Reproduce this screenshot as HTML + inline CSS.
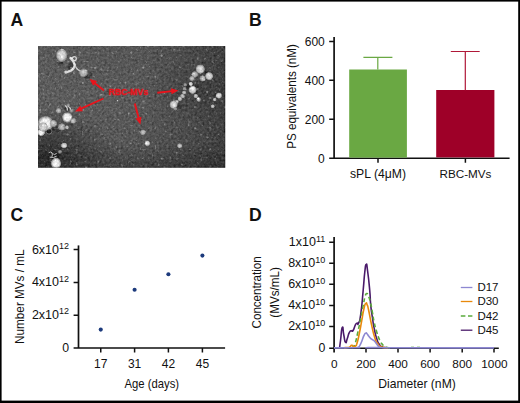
<!DOCTYPE html>
<html><head><meta charset="utf-8"><title>Figure</title>
<style>html,body{margin:0;padding:0;background:#fff}svg{display:block}text{font-family:"Liberation Sans",sans-serif;fill:#111}</style>
</head><body>
<svg width="520" height="403" viewBox="0 0 520 403">
<defs>
<linearGradient id="bg" x1="0" y1="0" x2="1" y2="0">
<stop offset="0" stop-color="#5e5e5e"/><stop offset="0.55" stop-color="#5a5a5a"/><stop offset="0.8" stop-color="#4e4e4e"/><stop offset="1" stop-color="#424242"/>
</linearGradient>
<linearGradient id="dkb" x1="0" y1="0" x2="0" y2="1">
<stop offset="0" stop-color="#000" stop-opacity="0.04"/><stop offset="0.45" stop-color="#000" stop-opacity="0"/><stop offset="0.8" stop-color="#000" stop-opacity="0.04"/><stop offset="1" stop-color="#000" stop-opacity="0.26"/>
</linearGradient>
<radialGradient id="dk1" cx="0.02" cy="0.9" r="0.4"><stop offset="0" stop-color="#000" stop-opacity="0.45"/><stop offset="0.5" stop-color="#000" stop-opacity="0.24"/><stop offset="1" stop-color="#000" stop-opacity="0"/></radialGradient>
<radialGradient id="dk2" cx="0.85" cy="0.38" r="0.3"><stop offset="0" stop-color="#000" stop-opacity="0.12"/><stop offset="1" stop-color="#000" stop-opacity="0"/></radialGradient>
<radialGradient id="v0"><stop offset="0" stop-color="#fcfcfc" stop-opacity="1"/><stop offset="0.6" stop-color="#e2e2e2" stop-opacity="1"/><stop offset="0.85" stop-color="#ababab" stop-opacity="0.8"/><stop offset="1" stop-color="#666" stop-opacity="0"/></radialGradient>
<radialGradient id="v1"><stop offset="0" stop-color="#e8e8e8" stop-opacity="1"/><stop offset="0.6" stop-color="#c8c8c8" stop-opacity="1"/><stop offset="0.85" stop-color="#9c9c9c" stop-opacity="0.8"/><stop offset="1" stop-color="#666" stop-opacity="0"/></radialGradient>
<radialGradient id="v2"><stop offset="0" stop-color="#cecece" stop-opacity="1"/><stop offset="0.6" stop-color="#b0b0b0" stop-opacity="0.95"/><stop offset="0.85" stop-color="#909090" stop-opacity="0.7"/><stop offset="1" stop-color="#666" stop-opacity="0"/></radialGradient>
<radialGradient id="v3"><stop offset="0" stop-color="#a8a8a8" stop-opacity="0.95"/><stop offset="0.65" stop-color="#909090" stop-opacity="0.85"/><stop offset="1" stop-color="#666" stop-opacity="0"/></radialGradient>
<filter id="noise" filterUnits="userSpaceOnUse" x="38" y="46" width="187.3" height="121.8" color-interpolation-filters="sRGB">
<feTurbulence type="fractalNoise" baseFrequency="0.42" numOctaves="2" seed="7" result="t"/>
<feColorMatrix in="t" type="matrix" values="0.6 0.6 0.6 0 -0.4  0.6 0.6 0.6 0 -0.4  0.6 0.6 0.6 0 -0.4  0 0 0 0 1" result="n0"/>
<feGaussianBlur in="n0" stdDeviation="0.35" result="n"/>
<feComposite in="SourceGraphic" in2="n" operator="arithmetic" k1="0" k2="1" k3="0.26" k4="-0.135" result="c1"/>
<feTurbulence type="fractalNoise" baseFrequency="0.33" numOctaves="1" seed="23" result="t2"/>
<feColorMatrix in="t2" type="matrix" values="0 6 0 0 -3.9  0 6 0 0 -3.9  0 6 0 0 -3.9  0 0 0 0 1" result="sp0"/>
<feGaussianBlur in="sp0" stdDeviation="0.3" result="sp"/>
<feComposite in="c1" in2="sp" operator="arithmetic" k1="0" k2="1" k3="0.24" k4="0"/>
</filter>
<filter id="bl" x="-0.2" y="-0.2" width="1.4" height="1.4"><feGaussianBlur stdDeviation="0.45"/></filter>
<clipPath id="mc"><rect x="38" y="46" width="187.3" height="121.8"/></clipPath>
</defs>
<rect x="0" y="0" width="520" height="403" fill="#fff"/>
<!-- border -->
<rect x="0" y="0" width="520" height="1.6" fill="#000"/><rect x="0" y="0" width="1.6" height="403" fill="#000"/>
<rect x="518.2" y="0" width="1.8" height="403" fill="#000"/><rect x="0" y="400.6" width="520" height="2.4" fill="#000"/>

<!-- Panel letters -->
<g font-weight="bold" font-size="17.6px">
<text x="10.6" y="25.8" fill="#000">A</text>
<text x="249" y="25.8" fill="#000">B</text>
<text x="10.4" y="221" fill="#000">C</text>
<text x="249" y="221" fill="#000">D</text>
</g>

<!-- Panel A micrograph -->
<g clip-path="url(#mc)">
<g filter="url(#noise)">
<rect x="38" y="46" width="187.3" height="121.8" fill="url(#bg)"/>
<rect x="38" y="46" width="187.3" height="121.8" fill="url(#dkb)"/>
<rect x="38" y="46" width="187.3" height="121.8" fill="url(#dk1)"/>
<rect x="38" y="46" width="187.3" height="121.8" fill="url(#dk2)"/>
<g filter="url(#bl)">
<!-- dark halos -->
<g fill="#1e1e1e">
<ellipse cx="60" cy="62.8" rx="3" ry="1.6" opacity="0.55"/>
<ellipse cx="70.5" cy="66.5" rx="3" ry="3.2" opacity="0.5"/>
<ellipse cx="87" cy="76.6" rx="3.4" ry="2.2" opacity="0.55"/>
<ellipse cx="90.3" cy="74" rx="2.2" ry="2" opacity="0.35"/>
<ellipse cx="49" cy="131.3" rx="3.6" ry="3.3" opacity="0.8"/>
<ellipse cx="53.4" cy="155.4" rx="6" ry="3.6" opacity="0.8"/>
<ellipse cx="66.4" cy="108.6" rx="2.6" ry="2.6" opacity="0.55"/>
<ellipse cx="57" cy="129.5" rx="4" ry="2.5" opacity="0.45"/>
<ellipse cx="188.6" cy="86.6" rx="2" ry="2.4" opacity="0.6"/>
<ellipse cx="195.8" cy="92.3" rx="2" ry="2" opacity="0.55"/>
<ellipse cx="196.5" cy="86" rx="2.4" ry="2.2" opacity="0.4"/>
<ellipse cx="179" cy="106.5" rx="3" ry="2" opacity="0.4"/>
<ellipse cx="206" cy="72.5" rx="2" ry="1.6" opacity="0.35"/>
</g>
<ellipse cx="61.7" cy="55.4" rx="6" ry="7.2" fill="url(#v1)"/>
<ellipse cx="83.5" cy="72.7" rx="4.8" ry="4.8" fill="url(#v2)"/>
<ellipse cx="67.3" cy="117.4" rx="5.6" ry="5.6" fill="url(#v0)"/>
<ellipse cx="58.6" cy="110.8" rx="3" ry="3" fill="url(#v2)"/>
<ellipse cx="73.3" cy="120.8" rx="3.1" ry="3.1" fill="url(#v2)"/>
<ellipse cx="71.6" cy="110.8" rx="2.3" ry="2.3" fill="url(#v3)"/>
<ellipse cx="68.1" cy="105.2" rx="2.3" ry="2.3" fill="url(#v3)"/>
<ellipse cx="45.6" cy="123.4" rx="8.4" ry="8" fill="url(#v0)"/>
<ellipse cx="41.2" cy="132.1" rx="4.2" ry="4.2" fill="url(#v0)"/>
<ellipse cx="53.4" cy="123.4" rx="4" ry="4" fill="url(#v2)"/>
<ellipse cx="61.7" cy="126.9" rx="4" ry="4" fill="url(#v2)"/>
<ellipse cx="66.9" cy="127.4" rx="2.2" ry="2.2" fill="url(#v2)"/>
<ellipse cx="43" cy="127" rx="5" ry="5" fill="url(#v1)"/>
<ellipse cx="64.1" cy="145.5" rx="3.4" ry="3" fill="url(#v1)"/>
<ellipse cx="60" cy="151.8" rx="2.3" ry="2.3" fill="url(#v3)"/>
<ellipse cx="56" cy="163.4" rx="5.4" ry="6.2" fill="url(#v0)"/>
<ellipse cx="200.2" cy="69.1" rx="5" ry="5" fill="url(#v1)"/>
<ellipse cx="194.7" cy="74.5" rx="3.6" ry="3.6" fill="url(#v2)"/>
<ellipse cx="209.1" cy="76.1" rx="4.3" ry="4.3" fill="url(#v1)"/>
<ellipse cx="202.5" cy="78.4" rx="3.4" ry="3.4" fill="url(#v2)"/>
<ellipse cx="191.9" cy="78.4" rx="2.9" ry="2.9" fill="url(#v2)"/>
<ellipse cx="190.8" cy="83.9" rx="2.3" ry="2.3" fill="url(#v1)"/>
<ellipse cx="192.6" cy="89.8" rx="4.4" ry="4.4" fill="url(#v1)"/>
<ellipse cx="185.3" cy="84.7" rx="2.1" ry="2.1" fill="url(#v3)"/>
<ellipse cx="184.5" cy="88.6" rx="2.1" ry="2.1" fill="url(#v3)"/>
<ellipse cx="184.1" cy="92.5" rx="2.3" ry="2.3" fill="url(#v2)"/>
<ellipse cx="182.5" cy="96" rx="2.6" ry="2.6" fill="url(#v2)"/>
<ellipse cx="179.9" cy="98.8" rx="2.6" ry="2.6" fill="url(#v2)"/>
<ellipse cx="176.7" cy="101.9" rx="2.3" ry="2.3" fill="url(#v2)"/>
<ellipse cx="173.6" cy="104.7" rx="4.4" ry="4.4" fill="url(#v1)"/>
<ellipse cx="175.2" cy="108.9" rx="2.2" ry="2.2" fill="url(#v3)"/>
<ellipse cx="195.8" cy="96" rx="2.5" ry="2.5" fill="url(#v2)"/>
<ellipse cx="198.6" cy="99.6" rx="2.5" ry="2.5" fill="url(#v2)"/>
<ellipse cx="218.9" cy="95.6" rx="3.3" ry="3.3" fill="url(#v1)"/>
<ellipse cx="214.7" cy="99.6" rx="2" ry="2" fill="url(#v2)"/>
<ellipse cx="212.7" cy="106.3" rx="2.2" ry="2.2" fill="url(#v2)"/>
<ellipse cx="143" cy="132.3" rx="3" ry="3" fill="url(#v2)"/>
<ellipse cx="147.3" cy="143.3" rx="3" ry="3" fill="url(#v1)"/>
<ellipse cx="179.6" cy="145.8" rx="2.8" ry="2.8" fill="url(#v2)"/>
<ellipse cx="117.5" cy="100.6" rx="1.1" ry="1.1" fill="url(#v2)"/>
<ellipse cx="49" cy="131.3" rx="2.3" ry="2.1" fill="#242424" opacity="0.9"/>
<ellipse cx="49" cy="131.3" rx="3" ry="2.8" fill="none" stroke="#aaa" stroke-width="0.7" opacity="0.8"/>
<circle cx="74.3" cy="58.6" r="2" fill="none" stroke="#d4d4d4" stroke-width="1.2"/>
<path d="M70.6 58 Q73.5 60.5 74.8 65 Q74.5 70 67.5 71.8" stroke="#e0e0e0" stroke-width="2.4" fill="none" stroke-linecap="round"/>
<circle cx="66" cy="72.1" r="1.7" fill="#d8d8d8"/>
<path d="M75 66 Q77 69.5 80 71" stroke="#c8c8c8" stroke-width="1.5" fill="none" stroke-linecap="round"/>
<path d="M65.3 105.8 q2.6 1.6 2 4.6 M68.6 106.8 q1.6 0.6 2 2.4" stroke="#d0d0d0" stroke-width="1.1" fill="none" stroke-linecap="round"/>
<path d="M49 152.5 q2 -1.6 3.4 0.8 q1.6 2.6 4 0.4 M50 157.3 q3 1.2 6.4 -1 M52 153 q1 2 0 4" stroke="#c4c4c4" stroke-width="0.9" fill="none" stroke-linecap="round"/>
<circle cx="193.1" cy="88.1" r="1.6" fill="#fff" opacity="0.9"/>
</g>
<path d="M224.9 46 V167.8 M38 167.4 H225.3" stroke="#111" stroke-width="0.9" opacity="0.55" fill="none"/>
</g>
<line x1="104.0" y1="90.6" x2="94.3" y2="82.8" stroke="#e8141c" stroke-width="1.9"/><polygon points="89.5,78.9 97.1,81.0 93.2,85.8" fill="#e8141c"/>
<line x1="103.5" y1="98.5" x2="80.6" y2="108.9" stroke="#e8141c" stroke-width="1.9"/><polygon points="75.0,111.5 80.3,105.7 82.8,111.3" fill="#e8141c"/>
<line x1="157.3" y1="92.7" x2="172.2" y2="91.1" stroke="#e8141c" stroke-width="1.9"/><polygon points="178.4,90.5 171.6,94.3 170.9,88.2" fill="#e8141c"/>
<line x1="134.8" y1="103.5" x2="138.8" y2="118.6" stroke="#e8141c" stroke-width="1.9"/><polygon points="140.4,124.6 135.6,118.4 141.5,116.8" fill="#e8141c"/>
<text x="108.4" y="95.4" font-size="8.7px" font-weight="bold" style="fill:#e8141c;stroke:#e8141c;stroke-width:0.35px">RBC-MVs</text>
</g>

<!-- Panel B -->
<g stroke="#111" stroke-width="1.5" fill="none">
<path d="M334.1 37 V158.2" stroke-width="1.7"/><path d="M329.2 41.4 H334.2 M329.2 80.3 H334.2 M329.2 119.2 H334.2 M329.2 158.2 H509.6 M378 158.2 V162.7 M465.4 158.2 V162.7"/>
</g>
<rect x="349.2" y="69.5" width="57.7" height="88.1" fill="#6aa843"/>
<rect x="436.2" y="90" width="58.2" height="67.4" fill="#9e0028"/>
<path d="M377.8 69.5 V57.3 M363.4 57.3 H392.4" stroke="#6aa843" stroke-width="1.2" fill="none"/>
<path d="M465.3 90.2 V51.5 M450.8 51.5 H479.7" stroke="#b01838" stroke-width="1.2" fill="none"/>
<g font-size="12px" text-anchor="end">
<text x="324.8" y="45.7">600</text><text x="324.8" y="84.6">400</text><text x="324.8" y="123.5">200</text><text x="324.8" y="162.5">0</text>
</g>
<text x="378" y="177.8" font-size="12.2px" text-anchor="middle">sPL (4μM)</text>
<text x="465.5" y="177.8" font-size="11.7px" text-anchor="middle">RBC-MVs</text>
<text transform="translate(295.6,96.5) rotate(-90)" font-size="12.2px" text-anchor="middle" textLength="104.6" lengthAdjust="spacingAndGlyphs">PS equivalents (nM)</text>

<!-- Panel C -->
<g stroke="#111" stroke-width="1.5" fill="none">
<path d="M78.5 245.4 V348" stroke-width="1.7"/><path d="M73.6 249.6 H78.7 M73.6 282.4 H78.7 M73.6 315.2 H78.7 M73.6 348.05 H225.1 M100.75 348 V352.6 M134.6 348 V352.6 M168.4 348 V352.6 M202.4 348 V352.6"/>
</g>
<g fill="#1c3a7c"><circle cx="100.75" cy="329.6" r="2.05"/><circle cx="134.6" cy="289.8" r="2.05"/><circle cx="168.4" cy="274.3" r="2.05"/><circle cx="202.4" cy="255.6" r="2.05"/></g>
<text x="69" y="253.5" text-anchor="end" font-size="12.5">6x10<tspan dy="-4.5" font-size="9">12</tspan></text>
<text x="69" y="286.2" text-anchor="end" font-size="12.5">4x10<tspan dy="-4.5" font-size="9">12</tspan></text>
<text x="69" y="318.9" text-anchor="end" font-size="12.5">2x10<tspan dy="-4.5" font-size="9">12</tspan></text>
<text x="69" y="352.2" text-anchor="end" font-size="12.3px">0</text>
<g font-size="12px" text-anchor="middle"><text x="100.7" y="368.3">17</text><text x="134.6" y="368.3">31</text><text x="168.4" y="368.3">42</text><text x="202.4" y="368.3">45</text></g>
<text x="151.8" y="387.6" font-size="12.2px" text-anchor="middle" textLength="54.6" lengthAdjust="spacingAndGlyphs">Age (days)</text>
<text transform="translate(23.6,296.7) rotate(-90)" font-size="12.2px" text-anchor="middle" textLength="94.4" lengthAdjust="spacingAndGlyphs">Number MVs / mL</text>

<!-- Panel D -->
<g stroke="#111" stroke-width="1.5" fill="none">
<path d="M334.1 237 V352.6" stroke-width="1.7"/><path d="M329.2 242.3 H334.2 M329.2 263.3 H334.2 M329.2 284.3 H334.2 M329.2 305.4 H334.2 M329.2 326.5 H334.2 M329.2 348.15 H498.8 M366 348 V352.6 M398 348 V352.6 M430.1 348 V352.6 M462.2 348 V352.6 M494 348 V352.6"/>
</g>
<g fill="none" stroke-width="1.6" stroke-linejoin="round">
<path d="M339.6 347.7 C339.9 345.1 339.7 346.8 340.6 340.0 C341.5 333.2 341.2 329.1 342.3 327.4 C343.4 325.7 342.7 330.0 343.8 335.0 C344.9 340.0 344.3 341.1 345.5 342.3 C346.7 343.5 346.0 341.8 347.3 338.5 C348.6 335.2 347.9 334.9 349.4 332.3 C350.9 329.7 350.4 331.5 351.7 330.8 C353.0 330.1 351.9 332.4 353.2 330.3 C354.5 328.2 354.2 327.0 355.5 324.6 C356.8 322.2 356.1 323.6 357.1 323.1 C358.1 322.6 357.3 326.4 358.6 323.0 C359.9 319.6 359.4 324.0 360.9 313.0 C362.4 302.0 361.9 303.7 363.2 290.0 C364.5 276.3 363.8 280.5 364.8 272.0 C365.8 263.5 365.3 264.7 366.2 264.4 C367.1 264.1 366.4 262.5 367.6 271.0 C368.8 279.5 368.7 278.8 369.7 290.0 C370.7 301.2 369.8 295.3 370.7 304.6 C371.6 313.9 371.3 309.7 372.5 318.0 C373.7 326.3 373.0 322.6 374.4 329.4 C375.8 336.2 375.1 333.5 376.7 338.5 C378.3 343.5 377.5 341.5 379.3 344.3 C381.1 347.1 380.1 345.7 382.0 346.8 C383.9 347.9 382.3 347.3 385.0 347.6 C387.7 347.9 388.3 347.7 390.0 347.7" stroke="#4a1a6a"/>
<path d="M352.0 347.6 C352.7 347.1 352.8 347.8 354.0 346.0 C355.2 344.2 354.2 346.9 355.5 342.3 C356.8 337.7 356.2 339.5 357.8 332.3 C359.4 325.1 358.4 329.8 360.2 320.8 C362.0 311.8 361.6 313.3 363.2 305.4 C364.8 297.5 363.9 300.9 365.0 297.0 C366.1 293.1 365.5 293.9 366.6 293.6 C367.7 293.3 367.0 293.1 368.3 296.0 C369.6 298.9 369.1 297.0 370.4 302.3 C371.7 307.6 371.0 305.3 372.3 312.0 C373.6 318.7 372.9 316.3 374.2 322.5 C375.5 328.7 374.9 325.7 376.3 330.5 C377.7 335.3 377.0 333.2 378.3 336.8 C379.6 340.4 379.0 338.8 380.3 341.3 C381.6 343.8 380.9 342.6 382.3 344.3 C383.7 346.0 382.8 345.3 384.5 346.4 C386.2 347.5 385.0 347.1 387.5 347.5 C390.0 347.9 390.5 347.6 392.0 347.7" stroke="#5aaa3c" stroke-dasharray="4.2 2.6"/><path d="M411 347.2 h3 M417 347.2 h3" stroke="#5aaa3c" stroke-width="1"/>
<path d="M344.0 347.7 C345.7 347.5 346.4 347.9 349.0 347.2 C351.6 346.4 350.0 345.5 351.7 345.4 C353.4 345.3 352.7 346.6 354.0 346.8 C355.3 347.0 354.5 347.3 355.5 346.0 C356.5 344.7 355.8 347.3 357.1 343.0 C358.4 338.7 357.9 340.4 359.4 333.0 C360.9 325.6 360.2 329.0 361.7 320.8 C363.2 312.6 362.6 314.3 364.0 308.5 C365.4 302.7 364.7 304.7 365.8 303.5 C366.9 302.3 366.3 302.8 367.2 305.0 C368.1 307.2 367.1 303.2 368.6 310.0 C370.1 316.8 369.6 316.2 371.7 325.4 C373.8 334.6 372.8 331.6 374.8 337.7 C376.8 343.8 376.0 341.0 377.8 343.8 C379.6 346.6 378.5 345.0 380.2 346.2 C381.9 347.4 380.4 346.9 383.0 347.4 C385.6 347.9 386.3 347.6 388.0 347.7" stroke="#e8890c"/>
<path d="M334.0 347.9 C341.3 347.9 348.0 347.9 356.0 347.8 C364.0 347.6 356.9 347.8 358.0 347.3 C359.1 346.8 358.2 347.9 359.4 346.2 C360.6 344.3 360.2 345.1 361.7 341.5 C363.2 337.9 362.6 338.2 364.0 335.4 C365.4 332.6 364.8 333.6 365.8 333.1 C366.8 332.6 366.2 333.0 367.0 333.8 C367.8 334.6 367.2 334.1 368.2 335.4 C369.2 336.7 368.8 336.5 370.0 337.8 C371.2 339.1 370.6 338.4 371.7 339.2 C372.8 340.0 372.3 339.4 373.3 340.2 C374.3 341.0 373.8 340.4 374.8 341.5 C375.8 342.6 375.3 342.1 376.3 343.4 C377.3 344.7 376.9 344.3 377.8 345.4 C378.7 346.5 378.1 345.9 379.0 346.6 C379.9 347.3 379.2 347.0 380.5 347.4 C381.8 347.8 345.2 347.6 383.0 347.8 C420.8 347.9 457.0 347.9 494.0 347.9" stroke="#8d88d2"/>
</g>
<text x="325.3" y="246.2" text-anchor="end" font-size="12.5">1x10<tspan dy="-4.5" font-size="9">11</tspan></text>
<text x="325.3" y="267.2" text-anchor="end" font-size="12.5">8x10<tspan dy="-4.5" font-size="9">10</tspan></text>
<text x="325.3" y="288.2" text-anchor="end" font-size="12.5">6x10<tspan dy="-4.5" font-size="9">10</tspan></text>
<text x="325.3" y="309.3" text-anchor="end" font-size="12.5">4x10<tspan dy="-4.5" font-size="9">10</tspan></text>
<text x="325.3" y="330.4" text-anchor="end" font-size="12.5">2x10<tspan dy="-4.5" font-size="9">10</tspan></text>
<text x="325.4" y="352.2" text-anchor="end" font-size="12.3px">0</text>
<g font-size="11.8px" text-anchor="middle"><text x="334.2" y="368.2">0</text><text x="366" y="368.2">200</text><text x="398" y="368.2">400</text><text x="430.1" y="368.2">600</text><text x="462.2" y="368.2">800</text><text x="494.4" y="368.2">1000</text></g>
<text x="417" y="387.8" font-size="12.2px" text-anchor="middle" textLength="77.6" lengthAdjust="spacingAndGlyphs">Diameter (nM)</text>
<text transform="translate(261.4,292.4) rotate(-90)" font-size="12.2px" text-anchor="middle" textLength="72" lengthAdjust="spacingAndGlyphs">Concentration</text>
<text transform="translate(279.4,292.4) rotate(-90)" font-size="12.2px" text-anchor="middle" textLength="50.5" lengthAdjust="spacingAndGlyphs">(MVs/mL)</text>
<g stroke-width="1.3" fill="none">
<path d="M460.8 287.5 H472.4" stroke="#8d88d2"/><path d="M460.8 301.5 H472.4" stroke="#e8890c"/><path d="M460.8 316 H472.4" stroke="#5aaa3c" stroke-dasharray="4.6 2.6"/><path d="M460.8 330.2 H472.4" stroke="#4a1a6a"/>
</g>
<g font-size="11.5px"><text x="477.4" y="291.2">D17</text><text x="477.4" y="305.4">D30</text><text x="477.4" y="320">D42</text><text x="477.4" y="334.2">D45</text></g>
</svg>
</body></html>
